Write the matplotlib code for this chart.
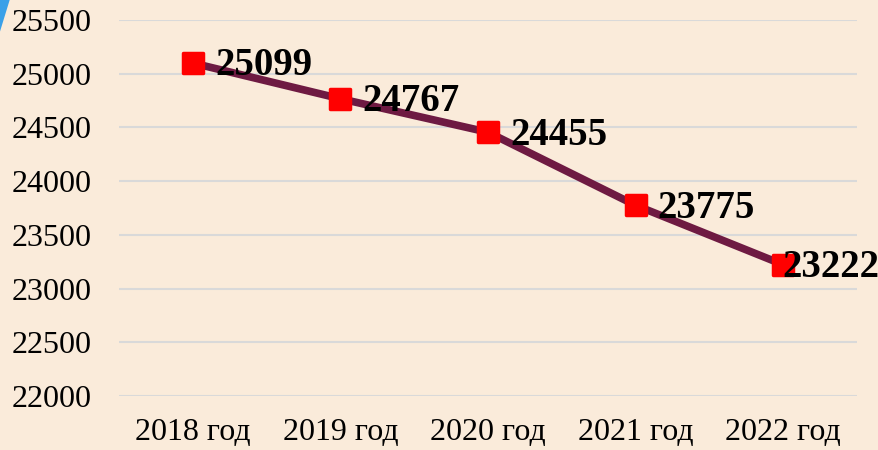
import matplotlib.pyplot as plt
from matplotlib.markers import MarkerStyle
from matplotlib.patches import Polygon

years = ['2018 год', '2019 год', '2020 год', '2021 год', '2022 год']
values = [25099, 24767, 24455, 23775, 23222]
y_ticks = [22000, 22500, 23000, 23500, 24000, 24500, 25000, 25500]

bg = '#FAEBDA'
plt.rcParams['font.family'] = ['Liberation Serif', 'DejaVu Serif']

fig = plt.figure(figsize=(8.79, 4.5), dpi=100, facecolor=bg)
ax = fig.add_axes([0.1354, 0.12, 0.8396, 0.8356], facecolor=bg)

x = list(range(len(years)))
ax.plot(x, values, color='#6E1A42', linewidth=5.5, zorder=3,
        marker=MarkerStyle('s', joinstyle='round'), markersize=14.5,
        markerfacecolor='#FF0000', markeredgecolor='#FF0000',
        markeredgewidth=2.5, solid_capstyle='round')

for i, v in enumerate(values):
    if i == len(values) - 1:
        # last label pushed to the right edge, as in the original
        ax.annotate(str(v), (1.0, v), xycoords=('figure fraction', 'data'),
                    xytext=(0, -2), textcoords='offset points',
                    ha='right', va='center', fontsize=28, fontweight='bold',
                    color='black', zorder=4)
    else:
        ax.annotate(str(v), (x[i], v), xytext=(16, -2), textcoords='offset points',
                    ha='left', va='center', fontsize=28, fontweight='bold',
                    color='black', zorder=4)

ax.set_xlim(-0.5, 4.5)
ax.set_ylim(22000, 25500)
ax.set_yticks(y_ticks)
ax.set_xticks(x)
ax.set_xticklabels(years)
ax.tick_params(axis='y', labelsize=23, length=0, pad=20)
ax.tick_params(axis='x', labelsize=23, length=0, pad=16)
ax.grid(axis='y', color='#D9D9D9', linewidth=1.5)
ax.set_axisbelow(True)
for s in ax.spines.values():
    s.set_visible(False)

# small blue corner decoration
fig.patches.append(Polygon([[0, 1], [0.011, 1], [0.0, 0.93]], closed=True,
                           transform=fig.transFigure, facecolor='#3AA0E8',
                           edgecolor='none'))

fig.savefig('out.png', dpi=100, facecolor=bg)
